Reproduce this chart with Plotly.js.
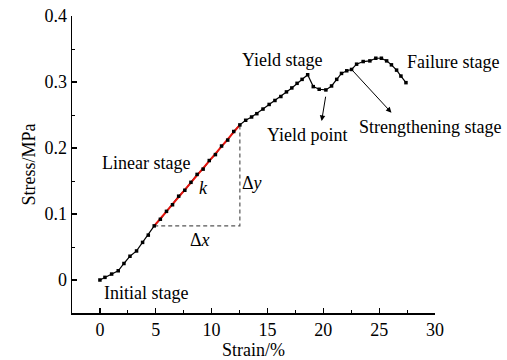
<!DOCTYPE html>
<html>
<head>
<meta charset="utf-8">
<script src="https://cdn.plot.ly/plotly-3.0.1.min.js"></script>
<style>html,body{margin:0;padding:0;background:#fff;}#chart{width:507px;height:360px;}</style>
</head>
<body>
<div id="chart"></div>
<script>
// Strain (%) and stress (MPa)
const strain = [0, 0.45, 1.05, 1.64, 2.15, 2.69, 3.28, 3.82, 4.33, 4.86, 5.41, 5.96, 6.50, 7.05, 7.60, 8.15, 8.70, 9.24, 9.79, 10.34, 10.89, 11.44, 11.98, 12.53, 13.05, 13.58, 14.05, 14.60, 15.15, 15.67, 16.20, 16.70, 17.18, 17.65, 18.10, 18.60, 19.10, 19.63, 20.23, 20.74, 21.20, 21.63, 22.10, 22.53, 22.98, 23.57, 24.17, 24.70, 25.20, 25.67, 26.10, 26.56, 26.95, 27.40];
const stress = [0, 0.004, 0.009, 0.014, 0.025, 0.036, 0.044, 0.057, 0.068, 0.082, 0.092, 0.104, 0.114, 0.127, 0.136, 0.148, 0.160, 0.168, 0.181, 0.190, 0.203, 0.212, 0.225, 0.235, 0.242, 0.247, 0.252, 0.259, 0.266, 0.272, 0.278, 0.285, 0.291, 0.298, 0.304, 0.311, 0.293, 0.289, 0.288, 0.294, 0.304, 0.313, 0.317, 0.319, 0.327, 0.331, 0.332, 0.336, 0.336, 0.332, 0.326, 0.318, 0.309, 0.299];
// Linear-stage fit endpoints
const fitX = [4.86, 12.53];
const fitY = [0.082, 0.235];
// Axis ticks
const xTicks = [0, 5, 10, 15, 20, 25, 30];
const yTicks = [0, 0.1, 0.2, 0.3, 0.4];
const yTickText = ['0', '0.1', '0.2', '0.3', '0.4'];

const font = {family: '"Liberation Serif", "Times New Roman", serif', size: 18, color: '#000'};

const traces = [
  {x: strain, y: stress, mode: 'lines', line: {color: '#000', width: 1.2}, hoverinfo: 'skip'},
  {x: fitX, y: fitY, mode: 'lines', line: {color: '#e8130c', width: 2}, hoverinfo: 'skip'},
  {x: [fitX[0], fitX[1], fitX[1]], y: [fitY[0], fitY[0], fitY[1]], mode: 'lines',
   line: {color: '#555', width: 1.2, dash: '4px,3px'}, hoverinfo: 'skip'},
  {x: strain, y: stress, mode: 'markers', marker: {color: '#000', size: 3.5, symbol: 'square'}, hoverinfo: 'skip'}
];

function txt(x, y, t, extra) {
  return Object.assign({x: x, y: y, xref: 'x', yref: 'y', text: t, showarrow: false, font: font}, extra || {});
}
function arrow(tx, ty, hx, hy) {
  return {x: hx, y: hy, ax: tx, ay: ty, xref: 'x', yref: 'y', axref: 'x', ayref: 'y',
          text: '', showarrow: true, arrowhead: 2, arrowsize: 1.1, arrowwidth: 1, arrowcolor: '#000'};
}

const annotations = [
  txt(0.0, 0.177, 'Linear stage', {xanchor: 'left'}),
  txt(0.15, -0.0195, 'Initial stage', {xanchor: 'left'}),
  txt(12.5, 0.333, 'Yield stage', {xanchor: 'left'}),
  txt(27.3, 0.330, 'Failure stage', {xanchor: 'left'}),
  txt(14.8, 0.219, 'Yield point', {xanchor: 'left'}),
  txt(23.0, 0.232, 'Strengthening stage', {xanchor: 'left'}),
  txt(9.25, 0.139, '<i>k</i>'),
  txt(13.6, 0.147, 'Δ<i>y</i>'),
  txt(9.0, 0.061, 'Δ<i>x</i>'),
  arrow(20.23, 0.280, 19.85, 0.241),
  arrow(22.53, 0.319, 26.1, 0.2535)
];

const layout = {
  width: 507, height: 360,
  margin: {l: 72, r: 72, t: 16, b: 47},
  paper_bgcolor: '#fff', plot_bgcolor: '#fff',
  showlegend: false,
  font: font,
  xaxis: {
    range: [-2.5, 30], tickvals: xTicks, ticks: 'inside', ticklen: 5, tickwidth: 1.2, tickcolor: '#000',
    showline: true, linecolor: '#000', linewidth: 1.5, showgrid: false, zeroline: false,
    minor: {dtick: 2.5, tick0: 0, ticks: 'inside', ticklen: 3, tickwidth: 1, tickcolor: '#000', showgrid: false},
    tickfont: font, title: {text: 'Strain/%', font: font, standoff: 0}
  },
  yaxis: {
    range: [-0.05, 0.4], tickvals: yTicks, ticktext: yTickText, ticks: 'inside', ticklen: 5, tickwidth: 1.2, tickcolor: '#000',
    showline: true, linecolor: '#000', linewidth: 1.5, showgrid: false, zeroline: false,
    minor: {dtick: 0.05, tick0: 0, ticks: 'inside', ticklen: 3, tickwidth: 1, tickcolor: '#000', showgrid: false},
    tickfont: font, title: {text: 'Stress/MPa', font: font, standoff: 4}
  },
  annotations: annotations
};

Plotly.newPlot('chart', traces, layout, {staticPlot: true, displayModeBar: false});
</script>
</body>
</html>
